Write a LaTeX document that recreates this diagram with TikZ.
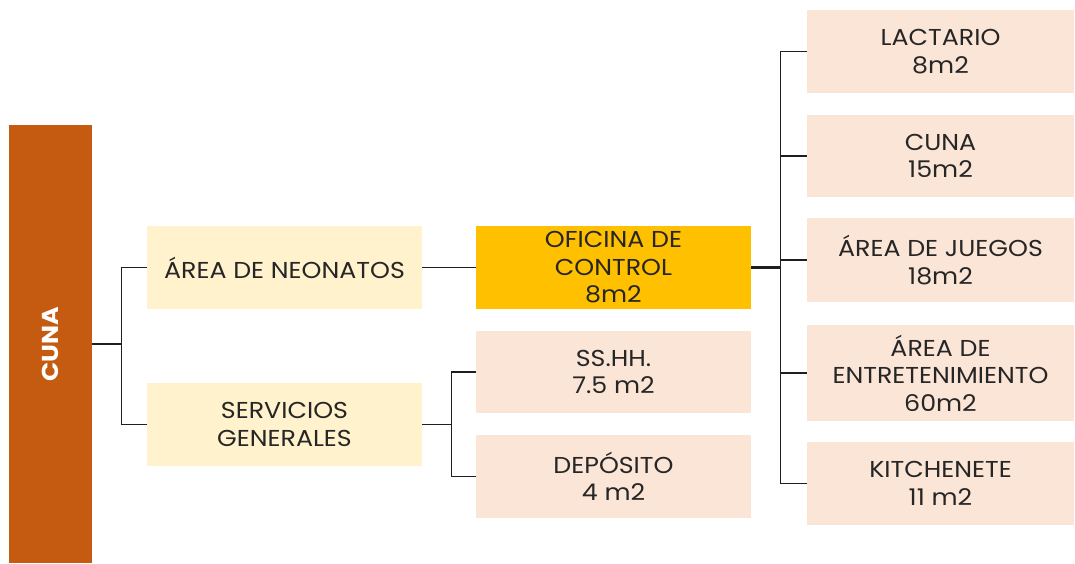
\documentclass[tikz,border=0pt]{standalone}
\usepackage{fontspec}
\setmainfont{Poppins}[FakeStretch=1.1]
\definecolor{cunaor}{HTML}{C55A11}
\definecolor{lightyel}{HTML}{FFF2CC}
\definecolor{gold}{HTML}{FFC000}
\definecolor{peach}{HTML}{FBE5D6}
\definecolor{txt}{HTML}{262626}
\definecolor{linec}{HTML}{1F1F1F}
\tikzset{
  box/.style={rectangle, inner sep=0pt, minimum width=275pt, minimum height=83pt, align=center, text=txt,
    font=\fontsize{23}{27.5}\selectfont},
  rbox/.style={box, fill=peach, minimum width=267pt},
  conn/.style={draw=linec, line width=1.4pt},
  trunk/.style={draw=linec, line width=2.4pt},
}
\begin{document}
\begin{tikzpicture}[x=1pt,y=-1pt]
\useasboundingbox (0,0) rectangle (1075,563);
\node[rectangle, fill=cunaor, minimum width=83pt, minimum height=438pt, inner sep=0pt] (cuna) at (50.5,344) {};
\node[rotate=90, text=white, font=\fontsize{23}{26}\selectfont\bfseries] (cunat) at (cuna.center) {CUNA};

\node[box, fill=lightyel] (neo) at (284.5,267.5) {ÁREA DE NEONATOS};
\node[box, fill=lightyel] (serv) at (284.5,424.5) {SERVICIOS\\GENERALES};
\node[box, fill=gold] (ofi) at (613.5,267.5) {OFICINA DE\\CONTROL\\8m2};
\node[box, fill=peach, minimum height=82pt] (ss) at (613.5,372) {SS.HH.\\7.5 m2};
\node[box, fill=peach] (dep) at (613.5,476.5) {DEPÓSITO\\4 m2};

\node[rbox] (lac) at (940.5,51.5) {LACTARIO\\8m2};
\node[rbox, minimum height=82pt] (cb) at (940.5,156) {CUNA\\15m2};
\node[rbox, minimum height=84pt] (jue) at (940.5,260) {ÁREA DE JUEGOS\\18m2};
\node[rbox, minimum height=96pt] (ent) at (940.5,373) {ÁREA DE\\ENTRETENIMIENTO\\60m2};
\node[rbox] (kit) at (940.5,483.5) {KITCHENETE\\11 m2};

% connectors
\draw[trunk] (cuna.east) -- ++(29,0) coordinate (j1);
\draw[conn] (neo.west) -| (j1) |- (serv.west);
\draw[conn] (neo.east) -- (ofi.west);
\draw[conn] (serv.east) -- ++(29,0) coordinate (j2);
\draw[conn] (ss.west) -| (j2) |- (dep.west);
\draw[trunk] (ofi.east) -- ++(29,0) coordinate (j3);
\draw[conn] (lac.west) -| (j3) |- (kit.west);
\draw[conn] (cb.west) -- (cb.west -| j3);
\draw[conn] (jue.west) -- (jue.west -| j3);
\draw[conn] (ent.west) -- (ent.west -| j3);
\end{tikzpicture}
\end{document}
